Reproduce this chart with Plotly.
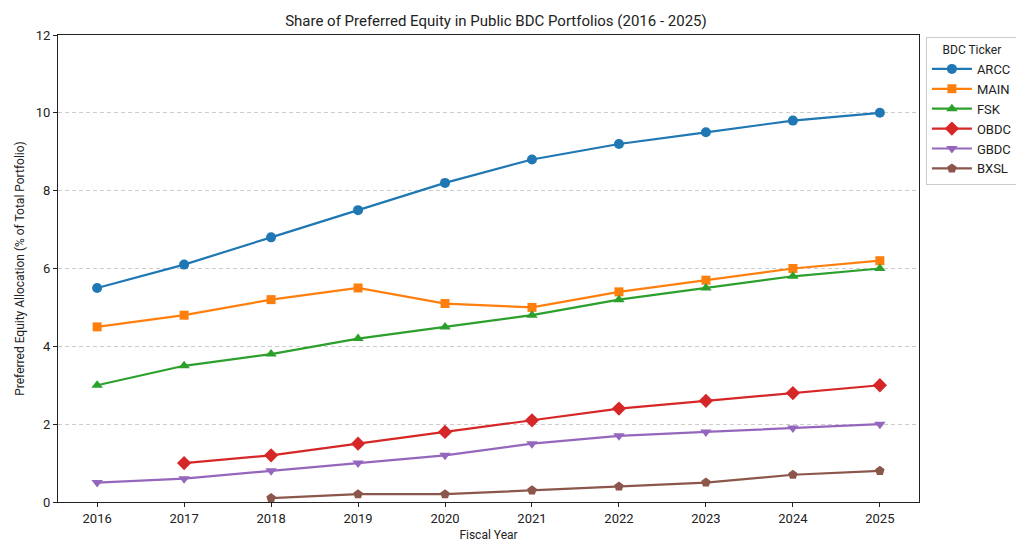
import plotly.graph_objects as go

years = [2016, 2017, 2018, 2019, 2020, 2021, 2022, 2023, 2024, 2025]
arcc = [5.5, 6.1, 6.8, 7.5, 8.2, 8.8, 9.2, 9.5, 9.8, 10.0]
main = [4.5, 4.8, 5.2, 5.5, 5.1, 5.0, 5.4, 5.7, 6.0, 6.2]
fsk = [3.0, 3.5, 3.8, 4.2, 4.5, 4.8, 5.2, 5.5, 5.8, 6.0]
obdc = [None, 1.0, 1.2, 1.5, 1.8, 2.1, 2.4, 2.6, 2.8, 3.0]
gbdc = [0.5, 0.6, 0.8, 1.0, 1.2, 1.5, 1.7, 1.8, 1.9, 2.0]
bxsl = [None, None, 0.1, 0.2, 0.2, 0.3, 0.4, 0.5, 0.7, 0.8]

series = [
    ("ARCC", arcc, "#1f77b4", "circle", 10),
    ("MAIN", main, "#ff7f0e", "square", 9),
    ("FSK", fsk, "#2ca02c", "triangle-up", 10),
    ("OBDC", obdc, "#d62728", "diamond", 11),
    ("GBDC", gbdc, "#9467bd", "triangle-down", 10),
    ("BXSL", bxsl, "#8c564b", "pentagon", 10),
]

fig = go.Figure()
for name, vals, color, sym, sz in series:
    fig.add_trace(go.Scatter(
        x=years, y=vals, name=name, mode="lines+markers",
        line=dict(color=color, width=2.2),
        marker=dict(symbol=sym, size=sz, color=color),
        connectgaps=False,
    ))

font = "Roboto"
fig.update_layout(
    width=1024, height=558,
    paper_bgcolor="white", plot_bgcolor="white",
    margin=dict(l=50, r=113, t=27, b=64),
    font=dict(family=font, size=13, color="#222"),
    title=dict(text="Share of Preferred Equity in Public BDC Portfolios (2016 - 2025)",
               x=0.4765, xanchor="center", y=0.978, yanchor="middle",
               font=dict(size=15, color="#222")),
    showlegend=True,
    legend=dict(
        title=dict(text="BDC Ticker", side="top center", font=dict(size=12)),
        x=1.008, xanchor="left", y=0.995, yanchor="top",
        bordercolor="#ccc", borderwidth=1, bgcolor="white",
        font=dict(size=13), itemwidth=40, tracegroupgap=0,
    ),
)
fig.update_xaxes(
    range=[2015.55, 2025.45], tickmode="array", tickvals=years,
    ticktext=[str(y) for y in years],
    showgrid=False, zeroline=False,
    showline=True, linecolor="#222", linewidth=1, mirror=True,
    ticks="outside", ticklen=4, tickcolor="#222",
    title=dict(text="Fiscal Year", font=dict(size=12), standoff=6),
    tickfont=dict(size=13),
)
fig.update_yaxes(
    range=[0, 12], tickmode="array", tickvals=[0, 2, 4, 6, 8, 10, 12],
    showgrid=True, gridcolor="#cccccc", griddash="4px,3px", gridwidth=1,
    zeroline=False,
    showline=True, linecolor="#222", linewidth=1, mirror=True,
    ticks="outside", ticklen=4, tickcolor="#222",
    title=dict(text="Preferred Equity Allocation (% of Total Portfolio)", font=dict(size=12), standoff=8),
    tickfont=dict(size=13),
)

fig.write_html("out.html")
